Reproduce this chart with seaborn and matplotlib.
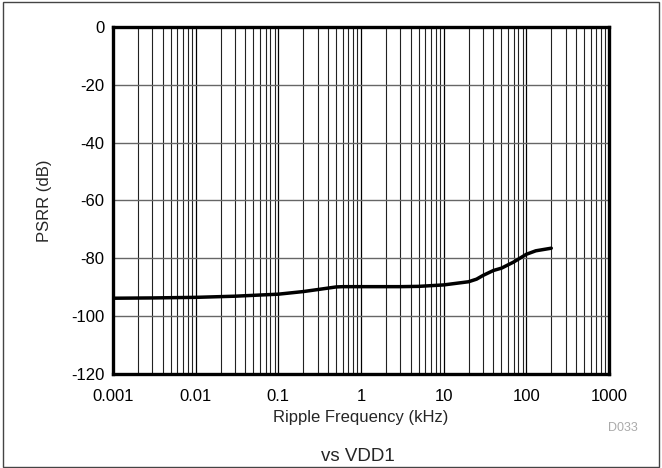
import matplotlib
matplotlib.use("Agg")
import matplotlib.pyplot as plt
import seaborn as sns
import pandas as pd
from matplotlib.ticker import LogLocator, FixedLocator, FixedFormatter, NullFormatter

# ripple frequency (kHz) and PSRR (dB)
freq_khz = [0.001, 0.003, 0.01, 0.03, 0.1, 0.2, 0.3, 0.5, 0.6, 1, 3, 5, 10, 20, 25, 30, 40, 50, 70, 100, 130, 200]
psrr_db = [-93.8, -93.7, -93.5, -93.1, -92.4, -91.5, -90.8, -89.9, -89.8, -89.8, -89.8, -89.7, -89.2, -88.1, -87.2, -85.9, -84.2, -83.4, -81.3, -78.6, -77.4, -76.5]

x_ticks = [0.001, 0.01, 0.1, 1, 10, 100, 1000]
x_tick_labels = ["0.001", "0.01", "0.1", "1", "10", "100", "1000"]
y_ticks = [0, -20, -40, -60, -80, -100, -120]

df = pd.DataFrame({"freq": freq_khz, "psrr": psrr_db})

sns.set_style("white")
plt.rcParams["font.family"] = ["Liberation Sans", "DejaVu Sans"]
plt.rcParams["axes.unicode_minus"] = False

fig = plt.figure(figsize=(6.62, 4.68), dpi=100)
ax = fig.add_axes([0.1707, 0.2009, 0.7493, 0.7414])

sns.lineplot(data=df, x="freq", y="psrr", ax=ax, color="black", linewidth=2.5)

ax.set_xscale("log")
ax.set_xlim(0.001, 1000)
ax.set_ylim(-120, 0)
ax.xaxis.set_major_locator(FixedLocator(x_ticks))
ax.xaxis.set_major_formatter(FixedFormatter(x_tick_labels))
ax.xaxis.set_minor_locator(LogLocator(base=10, subs=range(2, 10), numticks=20))
ax.xaxis.set_minor_formatter(NullFormatter())
ax.set_yticks(y_ticks)

ax.grid(True, which="major", axis="x", color="black", linewidth=0.9)
ax.grid(True, which="minor", axis="x", color="#222222", linewidth=0.8)
ax.grid(True, which="major", axis="y", color="#666666", linewidth=1.0)
ax.tick_params(which="both", length=0, labelsize=12, colors="black")
ax.tick_params(axis="x", pad=11)
ax.tick_params(axis="y", pad=6)

for sp in ax.spines.values():
    sp.set_visible(True)
    sp.set_color("black")
    sp.set_linewidth(2.4)

ax.set_xlabel("Ripple Frequency (kHz)", fontsize=12, labelpad=4)
ax.set_ylabel("PSRR (dB)", fontsize=12, labelpad=14)

fig.text(0.963, 0.079, "D033", fontsize=9, color="#aaaaaa", ha="right")
fig.text(0.54, 0.015, "vs VDD1", fontsize=13.5, ha="center")

fig.patches.append(plt.Rectangle((0.004, 0.003), 0.992, 0.992, transform=fig.transFigure,
                                 fill=False, edgecolor="#444444", linewidth=1.0))

fig.savefig("out.png", dpi=100)
